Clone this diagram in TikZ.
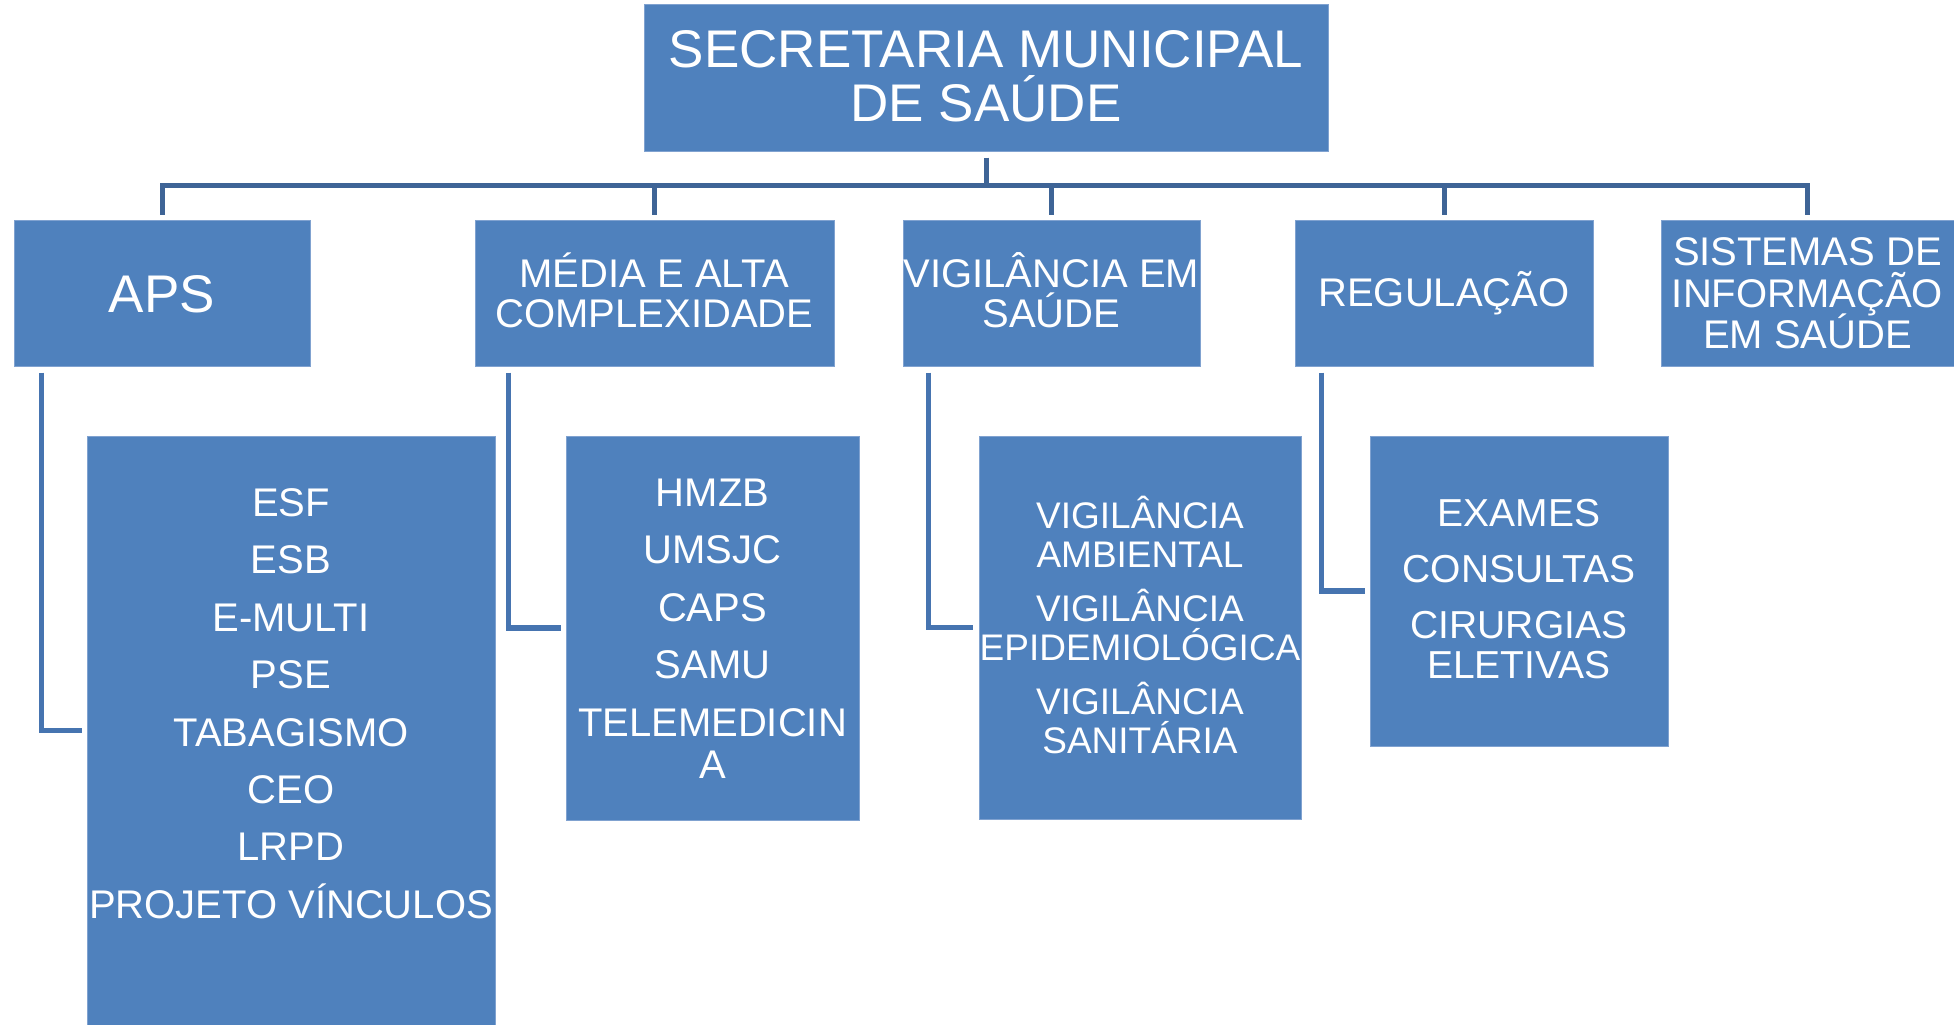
\documentclass[tikz,border=0pt]{standalone}
\usepackage{fontspec}
\setmainfont{Liberation Sans}
\definecolor{boxblue}{RGB}{79,129,189}
\definecolor{boxedge}{RGB}{128,162,208}
\definecolor{busblue}{RGB}{62,100,150}
\definecolor{lblue}{RGB}{70,116,176}
\newcommand\st{\rule[-0.14em]{0pt}{1em}}
\newcommand\fs[2]{\fontsize{#1}{#2}\selectfont\lineskiplimit=-1000pt\relax}
\begin{document}
\begin{tikzpicture}[x=1pt,y=-1pt,
  box/.style={rectangle, fill=boxblue, draw=boxedge, line width=1pt, inner sep=0pt,
              text=white, align=center},
  txt/.style={text=white, align=center, inner sep=0pt},
  bus/.style={draw=busblue, line width=5pt, line join=miter},
  lconn/.style={draw=lblue, line width=5.5pt, line join=miter}]
\useasboundingbox (0,0) rectangle (1954,1025);
\fill[white] (0,0) rectangle (1954,1025);

% top
\node[box, minimum width=684pt, minimum height=146pt] (top) at (986,78) {};
\node[txt, font=\fs{53}{54}] (topt) at (986,75.5)
  {\st SECRETARIA MUNICIPAL\\\st DE SAÚDE};

% level 2
\node[box, minimum width=296pt, minimum height=146pt, font=\fs{53}{55}] (aps) at (162,293) {\st APS};
\node[box, minimum width=359pt, minimum height=146pt, font=\fs{40}{40}] (mac) at (654.5,293)
  {\st MÉDIA E ALTA\\\st COMPLEXIDADE};
\node[box, minimum width=297pt, minimum height=146pt, font=\fs{40}{40}] (vig) at (1051.5,293)
  {\st VIGILÂNCIA EM\\\st SAÚDE};
\node[box, minimum width=298pt, minimum height=146pt, font=\fs{40}{42}] (reg) at (1444,293) {\st REGULAÇÃO};
\node[box, minimum width=293pt, minimum height=146pt, font=\fs{40}{41.5}] (sis) at (1807.5,293)
  {\st SISTEMAS DE\\\st INFORMAÇÃO\\\st EM SAÚDE};

% level 3 boxes
\node[box, minimum width=408pt, minimum height=589pt] (apsL) at (291,730.5) {};
\node[txt, font=\fs{40}{42}] (apsLt) at (291,703)
  {\st ESF\\[15.4pt]\st ESB\\[15.4pt]\st E-MULTI\\[15.4pt]\st PSE\\[15.4pt]\st TABAGISMO\\[15.4pt]\st CEO\\[15.4pt]\st LRPD\\[15.4pt]\st PROJETO VÍNCULOS};
\node[box, minimum width=293pt, minimum height=384pt, font=\fs{40}{42}] (macL) at (712.5,628)
  {\st HMZB\\[15.5pt]\st UMSJC\\[15.5pt]\st CAPS\\[15.5pt]\st SAMU\\[15.5pt]\st TELEMEDICIN\\\st A};
\node[box, minimum width=322pt, minimum height=383pt, font=\fs{37}{39.5}] (vigL) at (1140,627.5)
  {\st VIGILÂNCIA\\\st AMBIENTAL\\[14pt]\st VIGILÂNCIA\\\st EPIDEMIOLÓGICA\\[14pt]\st VIGILÂNCIA\\\st SANITÁRIA};
\node[box, minimum width=298pt, minimum height=310pt] (regL) at (1519,591) {};
\node[txt, font=\fs{39}{40}] (regLt) at (1519,588)
  {\st EXAMES\\[16pt]\st CONSULTAS\\[16pt]\st CIRURGIAS\\\st ELETIVAS};

% bus connectors
\coordinate (busc) at (986,185.5);
\draw[bus] ([yshift=-6pt]top.south) -- (busc);
\draw[bus] ([yshift=5pt]aps.north) -- (aps.north |- busc) -- (sis.north |- busc) -- ([yshift=5pt]sis.north);
\draw[bus] (mac.north |- busc) -- ([yshift=5pt]mac.north);
\draw[bus] (vig.north |- busc) -- ([yshift=5pt]vig.north);
\draw[bus] (reg.north |- busc) -- ([yshift=5pt]reg.north);

% elbow connectors
\coordinate (aL) at ([xshift=28pt,yshift=-6pt]aps.south west);
\coordinate (mL) at ([xshift=34pt,yshift=-6pt]mac.south west);
\coordinate (vL) at ([xshift=26pt,yshift=-6pt]vig.south west);
\coordinate (rL) at ([xshift=27pt,yshift=-6pt]reg.south west);
\draw[lconn] (aL) |- ([xshift=-5pt]apsL.west);
\draw[lconn] (mL) |- ([xshift=-5pt]macL.west);
\draw[lconn] (vL) |- ([xshift=-6pt]vigL.west);
\draw[lconn] (rL) |- ([xshift=-5pt]regL.west);
\end{tikzpicture}
\end{document}
